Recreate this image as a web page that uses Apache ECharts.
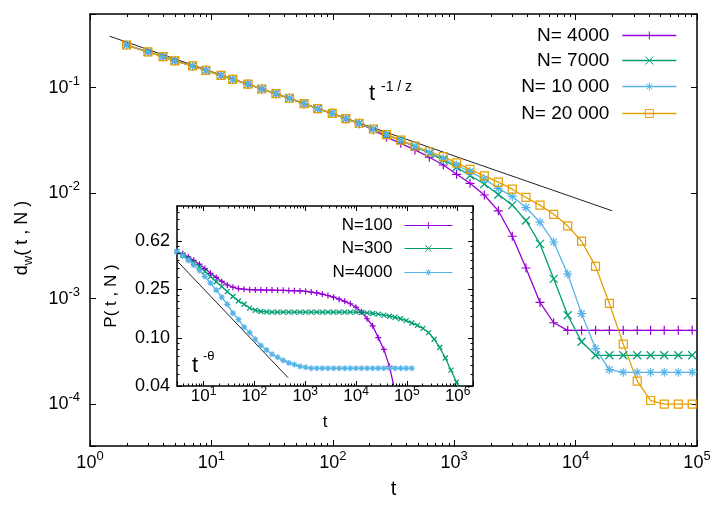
<!DOCTYPE html>
<html>
<head>
<meta charset="utf-8">
<script src="https://cdn.jsdelivr.net/npm/echarts@6/dist/echarts.min.js"></script>
<style>
  html, body { margin: 0; padding: 0; background: #fff; overflow: hidden; }
  #chart { width: 723px; height: 506px; }
</style>
</head>
<body>
<div id="chart"></div>
<script>
// main plot, d_w(t, N)
var tMain = [2, 3, 4, 5, 7, 9, 12, 15, 20, 26, 34, 44, 58, 75, 99, 128, 165, 216, 277, 363,
  475, 624, 813, 1047, 1350, 1770, 2310, 3010, 3900, 5090, 6600, 8610, 11200, 14600, 18970,
  24700, 32200, 41500, 53700, 70100, 91300];
var dw4000 = [0.254, 0.219, 0.197, 0.180, 0.161, 0.146, 0.131, 0.120, 0.108, 0.0972, 0.0878, 0.0794,
  0.0706, 0.0632, 0.0572, 0.0508, 0.0455, 0.0400, 0.0340, 0.0297, 0.0257, 0.0219, 0.0185, 0.0151,
  0.0124, 0.0096, 0.0068, 0.0039, 0.00195, 0.00092, 0.00059, 0.0005, 0.0005, 0.0005, 0.0005,
  0.0005, 0.0005, 0.0005, 0.0005, 0.0005, 0.0005];
var dw7000 = [0.254, 0.219, 0.197, 0.180, 0.161, 0.146, 0.131, 0.120, 0.108, 0.0972, 0.0878, 0.0794,
  0.0706, 0.0632, 0.0572, 0.0508, 0.0460, 0.0406, 0.0357, 0.0316, 0.0276, 0.0240, 0.0207, 0.0176,
  0.0147, 0.0122, 0.0097, 0.0077, 0.0055, 0.0033, 0.00154, 0.000695, 0.00039, 0.00029, 0.00029,
  0.00029, 0.00029, 0.00029, 0.00029, 0.00029, 0.00029];
var dw10000 = [0.254, 0.219, 0.197, 0.180, 0.161, 0.146, 0.131, 0.120, 0.108, 0.0972, 0.0878, 0.0794,
  0.0706, 0.0632, 0.0572, 0.0508, 0.0460, 0.0406, 0.0359, 0.0318, 0.0278, 0.0243, 0.0213, 0.0184,
  0.0160, 0.0136, 0.0111, 0.0093, 0.0073, 0.0053, 0.00344, 0.00171, 0.00072, 0.000336, 0.000212,
  0.0002, 0.0002, 0.0002, 0.0002, 0.0002, 0.0002];
var dw20000 = [0.254, 0.219, 0.197, 0.180, 0.161, 0.146, 0.131, 0.120, 0.108, 0.0972, 0.0878, 0.0794,
  0.0706, 0.0632, 0.0572, 0.0508, 0.0460, 0.0406, 0.0359, 0.0319, 0.0280, 0.0247, 0.0222, 0.0194,
  0.0168, 0.0146, 0.0127, 0.0109, 0.0091, 0.0077, 0.0063, 0.0049, 0.0035, 0.00202, 0.0009,
  0.00037, 0.000165, 0.000108, 0.0001, 0.0001, 0.0001];
var fitMain = [[1.45, 0.308], [20000, 0.0068]];   // t^(-1/z)

// inset, P(t, N)
var tInset = [3, 3.9, 5, 6.4, 8.3, 10.6, 13.7, 17.7, 22.8, 29.3, 37.8, 48.6, 62.7, 80.7, 104, 134,
  173, 222, 286, 369, 475, 612, 789, 1016, 1309, 1687, 2173, 2799, 3606, 4645, 5984, 7709, 9931,
  12790, 16480, 21230, 27350, 35240, 45390, 58480, 75340, 97050, 125000, 161100, 207500, 267300,
  344400, 443600, 571500, 736200, 948400, 1222000];
var p100 = [0.510, 0.489, 0.461, 0.432, 0.402, 0.370, 0.338, 0.313, 0.290, 0.271,
  0.260, 0.253, 0.250, 0.248, 0.247, 0.247, 0.246, 0.246, 0.245, 0.245,
  0.244, 0.243, 0.242, 0.240, 0.237, 0.233, 0.228, 0.222, 0.215, 0.207,
  0.199, 0.190, 0.178, 0.163, 0.143, 0.125, 0.100, 0.080, 0.058, 0.036];
var p300 = [0.510, 0.478, 0.446, 0.415, 0.383, 0.351, 0.318, 0.288, 0.263, 0.239,
  0.218, 0.200, 0.188, 0.175, 0.168, 0.164, 0.163, 0.162, 0.162, 0.162,
  0.162, 0.162, 0.162, 0.162, 0.162, 0.162, 0.162, 0.162, 0.162, 0.162,
  0.162, 0.162, 0.162, 0.161, 0.160, 0.158, 0.156, 0.153, 0.150, 0.147,
  0.143, 0.138, 0.132, 0.126, 0.119, 0.110, 0.097, 0.083, 0.068, 0.054,
  0.043, 0.033];
var p4000 = [0.510, 0.470, 0.431, 0.395, 0.356, 0.318, 0.281, 0.246, 0.215, 0.188,
  0.159, 0.141, 0.122, 0.110, 0.097, 0.086, 0.079, 0.073, 0.069, 0.065,
  0.062, 0.060, 0.058, 0.057, 0.056, 0.056, 0.056, 0.056, 0.056, 0.056,
  0.056, 0.056, 0.056, 0.056, 0.056, 0.056, 0.056, 0.056, 0.056, 0.056,
  0.056, 0.056, 0.056];
var fitInset = [[3, 0.428], [460, 0.0468]];       // t^(-theta)
var insetYTicks = [0.04, 0.10, 0.25, 0.625];
var insetYLabels = ['0.04', '0.10', '0.25', '0.62'];
var insetYMinor = [0.05, 0.06, 0.07, 0.08, 0.09, 0.125, 0.15, 0.175, 0.2, 0.225,
  0.3125, 0.375, 0.4375, 0.5, 0.5625, 0.78, 0.94, 1.09];

var mainNames = ['N= 4000', 'N= 7000', 'N= 10 000', 'N= 20 000'];
var insetNames = ['N=100', 'N=300', 'N=4000'];

var FONT = '"Liberation Sans", Arial, sans-serif';
var purple = '#9400d3', green = '#009e73', blue = '#56b4e9', orange = '#e69f00';
var PLUS = 'path://M5,0L5,10M0,5L10,5';
var CROSS = 'path://M0,0L10,10M10,0L0,10';
var STAR = 'path://M5,0L5,10M0,5L10,5M1.5,1.5L8.5,8.5M8.5,1.5L1.5,8.5';
var SQUARE = 'path://M0,0L10,0L10,10L0,10Z';

function pairs(t, v) {
  return v.map(function (y, i) { return [t[i], y]; });
}

function powLabel(v) {
  var e = Math.round(Math.log10(v));
  if (Math.abs(v / Math.pow(10, e) - 1) > 1e-6) return '';
  return '{b|10}{s|' + e + '}';
}

function curve(name, t, v, color, symbol, size, axis) {
  return {
    name: name, type: 'line', xAxisIndex: axis, yAxisIndex: axis,
    data: pairs(t, v),
    symbol: symbol, symbolSize: size,
    lineStyle: { color: color, width: 1.3 },
    itemStyle: {
      color: symbol === SQUARE ? 'rgba(0,0,0,0)' : color,
      borderColor: color, borderWidth: 1.2
    },
    emphasis: { disabled: true }, silent: true
  };
}

function fit(data, axis) {
  return {
    type: 'line', xAxisIndex: axis, yAxisIndex: axis, data: data,
    symbol: 'none', lineStyle: { color: '#222', width: 1 }, silent: true
  };
}

var mainRich = {
  b: { fontSize: 18, lineHeight: 26, fontFamily: FONT, color: '#000' },
  s: { fontSize: 13, lineHeight: 10, verticalAlign: 'top', fontFamily: FONT, color: '#000' }
};
var insetRich = {
  b: { fontSize: 17, lineHeight: 20, fontFamily: FONT, color: '#000' },
  s: { fontSize: 12, lineHeight: 4, verticalAlign: 'top', fontFamily: FONT, color: '#000' }
};

function logAxis(grid, pos, min, max, extra) {
  var a = {
    type: 'log', gridIndex: grid, position: pos, min: min, max: max,
    axisLine: { show: true, lineStyle: { color: '#000', width: 1.5 } },
    axisTick: { show: true, inside: true, length: grid === 0 ? 6 : 5, lineStyle: { color: '#000' } },
    splitLine: { show: false },
    axisLabel: { show: false }
  };
  for (var k in extra) a[k] = extra[k];
  return a;
}

var legends = [];
mainNames.forEach(function (n, i) {
  legends.push({
    data: [n], orient: 'vertical', align: 'right', right: 46, top: [26, 51, 77, 104][i],
    itemWidth: 54, itemHeight: 10, padding: 0, selectedMode: false,
    lineStyle: { width: 1.3 }, itemStyle: { borderWidth: 1 },
    textStyle: { fontSize: 19, fontFamily: FONT, color: '#000', padding: [0, 8, 0, 0] }
  });
});
insetNames.forEach(function (n, i) {
  legends.push({
    data: [n], orient: 'vertical', align: 'right', right: 270, top: [217, 240, 264][i],
    itemWidth: 48, itemHeight: 8, padding: 0, selectedMode: false,
    lineStyle: { width: 1.2 }, itemStyle: { borderWidth: 1 },
    textStyle: { fontSize: 17, fontFamily: FONT, color: '#000', padding: [0, 7, 0, 0] }
  });
});

var chart = echarts.init(document.getElementById('chart'));
chart.setOption({
  animation: false,
  backgroundColor: '#fff',
  textStyle: { fontFamily: FONT },
  legend: legends,
  grid: [
    { left: 90, top: 14, right: 26, bottom: 60 },
    { left: 177, top: 206, right: 250, bottom: 120, show: true, borderWidth: 0, backgroundColor: '#fff' }
  ],
  xAxis: [
    logAxis(0, 'bottom', 1, 1e5, {
      axisLabel: { show: true, formatter: powLabel, margin: 4, rich: mainRich },
      name: 't', nameLocation: 'middle', nameGap: 33,
      nameTextStyle: { fontSize: 20, color: '#000', fontFamily: FONT }
    }),
    logAxis(0, 'top', 1, 1e5, {}),
    logAxis(1, 'bottom', 3, 2e6, {
      axisLabel: { show: true, formatter: powLabel, margin: 0, rich: insetRich },
      name: 't', nameLocation: 'middle', nameGap: 28,
      nameTextStyle: { fontSize: 17, color: '#000', fontFamily: FONT }
    }),
    logAxis(1, 'top', 3, 2e6, {})
  ],
  yAxis: [
    logAxis(0, 'left', 4e-5, 0.5, {
      axisLabel: { show: true, formatter: powLabel, margin: 10, rich: mainRich },
      name: '{n|d}{w|w}{n|( t , N )}', nameLocation: 'middle', nameGap: 55,
      nameTextStyle: {
        padding: [0, 16, 0, 0],
        rich: {
          n: { fontSize: 18, lineHeight: 26, fontFamily: FONT, color: '#000' },
          w: { fontSize: 13, lineHeight: 8, verticalAlign: 'bottom', fontFamily: FONT, color: '#000' }
        }
      }
    }),
    logAxis(0, 'right', 4e-5, 0.5, {}),
    logAxis(1, 'left', 0.04, 1.21, {
      axisTick: { show: false },
      name: 'P( t , N )', nameLocation: 'middle', nameGap: 57,
      nameTextStyle: { fontSize: 17, color: '#000', fontFamily: FONT }
    }),
    logAxis(1, 'right', 0.04, 1.21, { axisTick: { show: false } })
  ],
  series: [
    fit(fitMain, 0),
    curve(mainNames[0], tMain, dw4000, purple, PLUS, 9, 0),
    curve(mainNames[1], tMain, dw7000, green, CROSS, 8, 0),
    curve(mainNames[2], tMain, dw10000, blue, STAR, 9, 0),
    curve(mainNames[3], tMain, dw20000, orange, SQUARE, 8, 0),
    fit(fitInset, 2),
    curve(insetNames[0], tInset, p100, purple, PLUS, 6, 2),
    curve(insetNames[1], tInset, p300, green, CROSS, 5, 2),
    curve(insetNames[2], tInset, p4000, blue, STAR, 6, 2)
  ]
});

// minor ticks, inset y ticks/labels and the two power-law labels
function toX(i, v) { return chart.convertToPixel({ xAxisIndex: i }, v); }
function toY(i, v) { return chart.convertToPixel({ yAxisIndex: i }, v); }
function seg(x1, y1, x2, y2) {
  return { type: 'line', z: 50, silent: true, shape: { x1: x1, y1: y1, x2: x2, y2: y2 },
    style: { stroke: '#000', lineWidth: 1 } };
}
function label(x, y, text, size, align) {
  return { type: 'text', z: 50, silent: true, x: x, y: y,
    style: { text: text, font: size + 'px ' + FONT, fill: '#000', align: align || 'left', verticalAlign: 'middle' } };
}

var g = [];
var mb = toY(0, 4e-5), mt = toY(0, 0.5);
for (var e = 0; e < 5; e++) {
  for (var m = 2; m <= 9; m++) {
    var x = Math.round(toX(0, m * Math.pow(10, e))) + 0.5;
    g.push(seg(x, mb, x, mb - 3), seg(x, mt, x, mt + 3));
  }
}
var ib = toY(2, 0.04), it = toY(2, 1.21), il = toX(2, 3), ir = toX(2, 2e6);
for (e = 0; e < 7; e++) {
  for (m = 2; m <= 9; m++) {
    var v = m * Math.pow(10, e);
    if (v <= 3 || v >= 2e6) continue;
    x = Math.round(toX(2, v)) + 0.5;
    g.push(seg(x, ib, x, ib - 2.5), seg(x, it, x, it + 2.5));
  }
}
insetYTicks.forEach(function (v, i) {
  var y = Math.round(toY(2, v)) + 0.5;
  g.push(seg(il, y, il + 5, y), seg(ir, y, ir - 5, y));
  g.push(label(il - 7, y, insetYLabels[i], 18, 'right'));
});
insetYMinor.forEach(function (v) {
  var y = Math.round(toY(2, v)) + 0.5;
  g.push(seg(il, y, il + 2.5, y), seg(ir, y, ir - 2.5, y));
});
g.push(label(369, 94, 't', 22), label(381, 87, '-1 / z', 14));
g.push(label(192, 365.5, 't', 22), label(203, 356, '-\u03b8', 13));

chart.setOption({ graphic: g });
</script>
</body>
</html>
